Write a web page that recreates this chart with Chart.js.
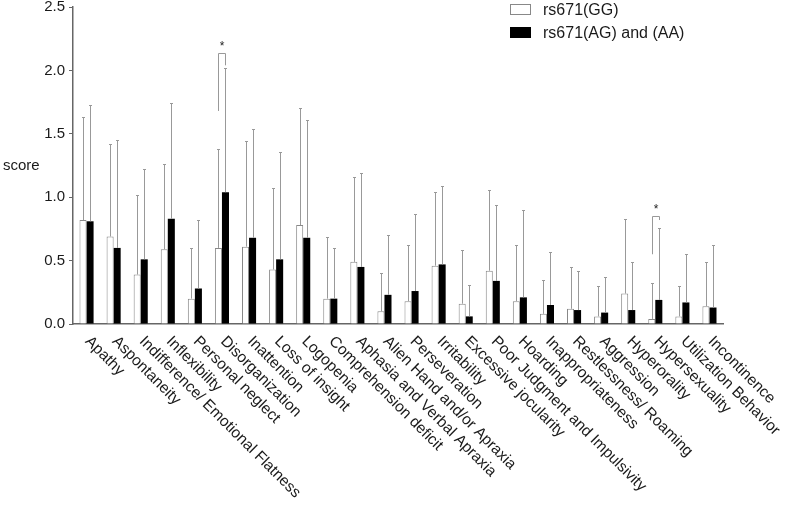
<!DOCTYPE html>
<html>
<head>
<meta charset="utf-8">
<script src="https://cdn.jsdelivr.net/npm/chart.js"></script>
<style>
  html, body { margin: 0; padding: 0; background: #fff; }
  #wrap { width: 787px; height: 505px; position: relative; }
</style>
</head>
<body>
<div id="wrap"><canvas id="chart"></canvas></div>
<script>
// 类别与数据
const categories = [
    'Apathy', 'Aspontaneity', 'Indifference/ Emotional Flatness', 'Inflexibility',
    'Personal neglect', 'Disorganization', 'Inattention', 'Loss of insight',
    'Logopenia', 'Comprehension deficit', 'Aphasia and Verbal Apraxia',
    'Alien Hand and/or Apraxia', 'Perseveration', 'Irritability',
    'Excessive jocularity', 'Poor Judgment and Impulsivity', 'Hoarding',
    'Inappropriateness', 'Restlessness/ Roaming', 'Aggression', 'Hyperorality',
    'Hypersexuality', 'Utilization Behavior', 'Incontinence'
];
const seriesNames = ['rs671(GG)', 'rs671(AG) and (AA)'];

const ggMean = [0.82, 0.69, 0.39, 0.59, 0.20, 0.60, 0.61, 0.43, 0.78, 0.20, 0.49, 0.10,
                0.18, 0.46, 0.16, 0.42, 0.18, 0.08, 0.12, 0.06, 0.24, 0.04, 0.06, 0.14];
const ggUpper = [1.63, 1.42, 1.02, 1.26, 0.60, 1.38, 1.44, 1.07, 1.70, 0.69, 1.16, 0.40,
                 0.62, 1.04, 0.58, 1.06, 0.62, 0.35, 0.45, 0.30, 0.83, 0.32, 0.30, 0.49];
const agMean = [0.81, 0.60, 0.51, 0.83, 0.28, 1.04, 0.68, 0.51, 0.68, 0.20, 0.45, 0.23,
                0.26, 0.47, 0.06, 0.34, 0.21, 0.15, 0.11, 0.09, 0.11, 0.19, 0.17, 0.13];
const agUpper = [1.73, 1.45, 1.22, 1.74, 0.82, 2.02, 1.54, 1.36, 1.61, 0.60, 1.19, 0.70,
                 0.87, 1.09, 0.31, 0.94, 0.90, 0.57, 0.42, 0.37, 0.49, 0.76, 0.55, 0.62];

// 显著性标记（类别索引、左线起点、顶部、右线终点）
const sigIndex = [5, 21];
const sigLeftLow = [1.68, 0.55];
const sigTop = [2.14, 0.85];
const sigRightLow = [2.04, 0.82];

const yTicks = [0, 0.5, 1.0, 1.5, 2.0, 2.5];

const FONT = '"Liberation Sans", Arial, Helvetica, sans-serif';
const AXIS_COLOR = '#666';
const ERR_COLOR = '#999';

// 误差线
const errorBarPlugin = {
    id: 'errorBars',
    afterDatasetsDraw(chart) {
        const ctx = chart.ctx;
        const y = chart.scales.y;
        const uppers = [ggUpper, agUpper];
        ctx.save();
        ctx.strokeStyle = ERR_COLOR;
        ctx.lineWidth = 1;
        chart.data.datasets.forEach((ds, di) => {
            const meta = chart.getDatasetMeta(di);
            meta.data.forEach((bar, i) => {
                const x = Math.round(bar.x) + 0.5;
                const yTop = Math.round(y.getPixelForValue(uppers[di][i])) + 0.5;
                ctx.beginPath();
                ctx.moveTo(x, bar.y);
                ctx.lineTo(x, yTop);
                ctx.moveTo(x - 1.5, yTop);
                ctx.lineTo(x + 1.5, yTop);
                ctx.stroke();
            });
        });

        // 显著性括号
        const m0 = chart.getDatasetMeta(0);
        const m1 = chart.getDatasetMeta(1);
        sigIndex.forEach((ci, k) => {
            const x0 = Math.round(m0.data[ci].x) + 0.5;
            const x1 = Math.round(m1.data[ci].x) + 0.5;
            const yL = y.getPixelForValue(sigLeftLow[k]);
            const yT = Math.round(y.getPixelForValue(sigTop[k])) + 0.5;
            const yR = y.getPixelForValue(sigRightLow[k]);
            ctx.strokeStyle = ERR_COLOR;
            ctx.beginPath();
            ctx.moveTo(x0, yL);
            ctx.lineTo(x0, yT);
            ctx.lineTo(x1, yT);
            ctx.lineTo(x1, yR);
            ctx.stroke();
            ctx.fillStyle = '#222';
            ctx.font = '12px ' + FONT;
            ctx.textAlign = 'center';
            ctx.textBaseline = 'bottom';
            ctx.fillText('*', (x0 + x1) / 2, yT - 1);
        });
        ctx.restore();
    }
};

// 倾斜的类别标签、纵轴标题、图例
const annotationPlugin = {
    id: 'annotations',
    afterDraw(chart) {
        const ctx = chart.ctx;
        const xs = chart.scales.x;
        ctx.save();
        ctx.fillStyle = '#1a1a1a';
        ctx.font = '15.5px ' + FONT;
        ctx.textAlign = 'left';
        ctx.textBaseline = 'middle';
        categories.forEach((label, i) => {
            const x = xs.getPixelForTick(i);
            ctx.save();
            ctx.translate(x + 1, xs.top + 15);
            ctx.rotate(Math.PI / 4);
            ctx.fillText(label, 0, 0);
            ctx.restore();
        });

        ctx.font = '15px ' + FONT;
        ctx.textBaseline = 'middle';
        ctx.fillText('score', 3, 166);

        // 图例
        const fills = ['#ffffff', '#000000'];
        const borders = ['#888888', '#000000'];
        const legX = 510;
        const legY = [4, 27];
        ctx.font = '16px ' + FONT;
        seriesNames.forEach((name, i) => {
            ctx.fillStyle = fills[i];
            ctx.fillRect(legX, legY[i], 21, 11);
            ctx.strokeStyle = borders[i];
            ctx.lineWidth = 1;
            ctx.strokeRect(legX + 0.5, legY[i] + 0.5, 20, 10);
            ctx.fillStyle = '#1a1a1a';
            ctx.fillText(name, legX + 33, legY[i] + 7);
        });
        ctx.restore();
    }
};

const ctx = document.getElementById('chart');
new Chart(ctx, {
    type: 'bar',
    data: {
        labels: categories,
        datasets: [{
            label: seriesNames[0],
            data: ggMean,
            backgroundColor: '#ffffff',
            borderColor: '#888888',
            borderWidth: 1
        }, {
            label: seriesNames[1],
            data: agMean,
            backgroundColor: '#000000',
            borderColor: '#000000',
            borderWidth: 0
        }]
    },
    options: {
        responsive: true,
        maintainAspectRatio: false,
        animation: false,
        devicePixelRatio: 1,
        layout: {
            padding: { left: 0, right: 64, top: 0, bottom: 0 }
        },
        datasets: {
            bar: {
                categoryPercentage: 0.52,
                barPercentage: 1.0
            }
        },
        plugins: {
            legend: { display: false },
            tooltip: { enabled: false }
        },
        scales: {
            x: {
                grid: { display: false },
                border: { display: true, color: AXIS_COLOR, width: 1.5 },
                ticks: { display: false },
                afterFit(scale) { scale.height = 181; }
            },
            y: {
                min: 0,
                max: 2.5,
                afterBuildTicks(scale) {
                    scale.ticks = yTicks.map(v => ({ value: v }));
                },
                ticks: {
                    color: '#1a1a1a',
                    font: { family: FONT, size: 15, lineHeight: 0.9 },
                    padding: 4,
                    callback: v => Number(v).toFixed(1)
                },
                grid: {
                    display: true,
                    drawOnChartArea: false,
                    drawTicks: true,
                    tickLength: 4,
                    color: AXIS_COLOR
                },
                border: { display: true, color: AXIS_COLOR, width: 1.5 },
                afterFit(scale) {
                    scale.width = 73;
                    scale.paddingTop = 7;
                }
            }
        }
    },
    plugins: [errorBarPlugin, annotationPlugin]
});
</script>
</body>
</html>
